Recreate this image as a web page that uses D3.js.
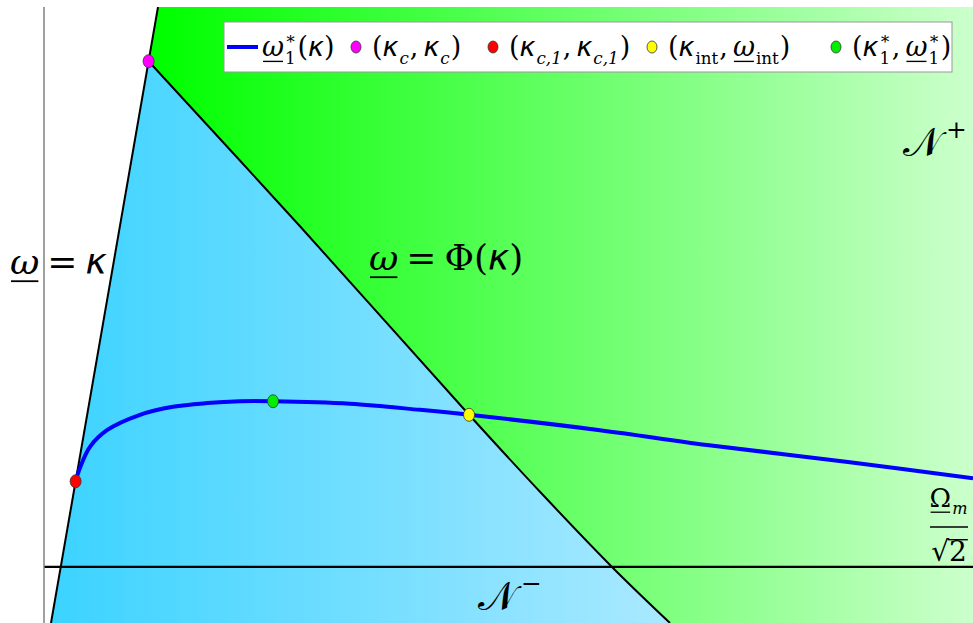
<!DOCTYPE html>
<html>
<head>
<meta charset="utf-8">
<script src="https://cdn.jsdelivr.net/npm/d3@7"></script>
<style>
  body { margin: 0; background: #fff; }
  svg { display: block; }
  svg text { font-family: "DejaVu Serif", serif; }
  svg text.kap { font-family: "DejaVu Sans", sans-serif; }
</style>
</head>
<body>
<svg id="chart" width="973" height="623"></svg>
<script>
// ----------------------------
// DATA (arbitrary units: kappa on x, omega on y)
// ----------------------------
const kappaDomain = [-0.0654, 8.617];
const omegaDomain = [0, 1];

// omega = kappa reference line
const diagKappa = [0, 1];

// omega = Phi(kappa) boundary
const phiKappa = [0.912, 2.327, 3.907, 4.570, 5.243, 5.785];
const phiOmega = [0.912, 0.644, 0.338, 0.213, 0.091, 0];

// omega_1^*(kappa) curve
const starKappa = [0.230, 0.271, 0.364, 0.523, 0.832, 1.140, 1.458, 1.766, 2.075, 2.794, 3.449, 3.907, 5.131, 6.131, 7.467, 8.617];
const starOmega = [0.230, 0.252, 0.286, 0.313, 0.338, 0.351, 0.357, 0.360, 0.360, 0.356, 0.346, 0.338, 0.313, 0.289, 0.261, 0.235];

// Omega_m / sqrt(2) level
const omegaLevel = 0.091;

// special points: (kc,kc), (kc1,kc1), (kint,wint), (k1*,w1*)
const pointKappa = [0.912, 0.230, 3.907, 2.075];
const pointOmega = [0.912, 0.230, 0.338, 0.360];
const pointColors = ["#ff00ff", "#ff0000", "#ffff00", "#00ee00"];

// ----------------------------
// SETUP
// ----------------------------
const svg = d3.select("#chart");
const W = 973, H = 623;
const margin = { top: 7, right: 0, bottom: 0, left: 44 };

const x = d3.scaleLinear().domain(kappaDomain).range([margin.left, W - margin.right]);
const y = d3.scaleLinear().domain(omegaDomain).range([H - margin.bottom, margin.top]);

const phiPts = phiKappa.map((k, i) => [k, phiOmega[i]]);
const starPts = starKappa.map((k, i) => [k, starOmega[i]]);

const curve = d3.line().x(d => x(d[0])).y(d => y(d[1])).curve(d3.curveCatmullRom.alpha(0.5));
const straight = d3.line().x(d => x(d[0])).y(d => y(d[1]));

const defs = svg.append("defs");
defs.append("clipPath").attr("id", "plot")
  .append("rect")
  .attr("x", margin.left).attr("y", margin.top)
  .attr("width", W - margin.left - margin.right)
  .attr("height", H - margin.top - margin.bottom);

function grad(id, x1, x2, c1, c2) {
  const gr = defs.append("linearGradient").attr("id", id)
    .attr("gradientUnits", "userSpaceOnUse")
    .attr("x1", x1).attr("x2", x2).attr("y1", 0).attr("y2", 0);
  gr.append("stop").attr("offset", 0).attr("stop-color", c1);
  gr.append("stop").attr("offset", 1).attr("stop-color", c2);
}
grad("gGreen", x(omegaDomain[1]), x(kappaDomain[1]), "#00ff00", "#ccffcc");
grad("gBlue", x(0), x(phiKappa[phiKappa.length - 1]), "#3bd3ff", "#aae9ff");

const g = svg.append("g").attr("clip-path", "url(#plot)");

// ----------------------------
// REGIONS
// ----------------------------
const phiPath = curve(phiPts);
const omegaTop = omegaDomain[1];
const kEnd = phiKappa[phiKappa.length - 1];
const greenD = `M${x(omegaTop)},${y(omegaTop)}L${x(kappaDomain[1])},${y(omegaTop)}L${x(kappaDomain[1])},${y(0)}`
  + `L${x(kEnd)},${y(0)}`
  + curve(phiPts.slice().reverse()).replace(/^M/, "L") + "Z";
g.append("path").attr("d", greenD).attr("fill", "url(#gGreen)");

const blueD = phiPath + `L${x(0)},${y(0)}Z`;
g.append("path").attr("d", blueD).attr("fill", "url(#gBlue)");

// ----------------------------
// LINES
// ----------------------------
g.append("line")
  .attr("x1", x(kappaDomain[0])).attr("x2", x(kappaDomain[1]))
  .attr("y1", y(omegaLevel)).attr("y2", y(omegaLevel))
  .attr("stroke", "#000").attr("stroke-width", 2.2);

g.append("path").attr("d", straight(diagKappa.map(k => [k, k])))
  .attr("fill", "none").attr("stroke", "#000").attr("stroke-width", 2);

g.append("path").attr("d", phiPath)
  .attr("fill", "none").attr("stroke", "#000").attr("stroke-width", 2);

g.append("path").attr("d", curve(starPts))
  .attr("fill", "none").attr("stroke", "#0000ff").attr("stroke-width", 4);

g.selectAll("ellipse.pt")
  .data(pointKappa)
  .join("ellipse")
  .attr("class", "pt")
  .attr("cx", d => x(d))
  .attr("cy", (d, i) => y(pointOmega[i]))
  .attr("rx", 5.5).attr("ry", 6.5)
  .attr("fill", (d, i) => pointColors[i])
  .attr("stroke", "#333").attr("stroke-width", 0.8);

// left axis line
svg.append("line")
  .attr("x1", margin.left).attr("x2", margin.left)
  .attr("y1", margin.top).attr("y2", H)
  .attr("stroke", "#808080").attr("stroke-width", 1.5);

// ----------------------------
// MATH TEXT HELPER
// ----------------------------
function mathText(parent, x0, y0, size, toks, anchor) {
  const tg = parent.append("g");
  let cx = 0;
  function put(t, px, py, s, italic, under, over, cls) {
    const el = tg.append("text")
      .attr("class", cls || null)
      .attr("x", px).attr("y", py)
      .attr("font-size", s)
      .attr("font-style", italic ? "italic" : "normal")
      .text(t);
    const w = el.node().getComputedTextLength();
    if (under) tg.append("line").attr("x1", px + 1).attr("x2", px + w - 1)
      .attr("y1", py + s * 0.2).attr("y2", py + s * 0.2)
      .attr("stroke", "#000").attr("stroke-width", Math.max(1, s * 0.05));
    if (over) tg.append("line").attr("x1", px - 1).attr("x2", px + w + 1)
      .attr("y1", py - s * 0.76).attr("y2", py - s * 0.76)
      .attr("stroke", "#000").attr("stroke-width", Math.max(1, s * 0.05));
    return w;
  }
  toks.forEach(tk => {
    if (tk.sub !== undefined || tk.sup !== undefined) {
      const s = size * 0.62;
      let w = 0;
      if (tk.sup !== undefined) w = Math.max(w, put(tk.sup, cx + 1 + (tk.dx || 0), -size * 0.46, s, false));
      if (tk.sub !== undefined) w = Math.max(w, put(tk.sub, cx + 1, size * 0.28, s, tk.si, tk.su));
      cx += w + 2 + (tk.dx || 0);
    } else {
      cx += tk.l || 0;
      const isK = tk.t === "κ";
      cx += put(tk.t, cx, 0, size * (tk.s || 1), tk.i, tk.u, tk.o, isK ? "kap" : null);
      cx += tk.r || 0;
    }
  });
  const dx = anchor === "middle" ? -cx / 2 : anchor === "end" ? -cx : 0;
  tg.attr("transform", `translate(${x0 + dx},${y0})`);
  return cx;
}

// ----------------------------
// ANNOTATIONS
// ----------------------------
const ann = svg.append("g");
mathText(ann, 10, 274, 36, [
  { t: "ω", i: true, u: true }, { t: "=", l: 8, r: 8 }, { t: "κ", i: true }
]);
mathText(ann, 369, 270, 36, [
  { t: "ω", i: true, u: true }, { t: "=", l: 8, r: 8 }, { t: "Φ" }, { t: "(" }, { t: "κ", i: true }, { t: ")" }
]);
mathText(ann, 903, 156, 40, [{ t: "𝒩" }, { sup: "+", dx: 4 }]);
mathText(ann, 478, 610, 40, [{ t: "𝒩" }, { sup: "−", dx: 4 }]);

// Omega_m / sqrt(2)
const fx = 949;
mathText(ann, fx, 507, 26, [{ t: "Ω", u: true }, { sub: "m", si: true }], "middle");
ann.append("line").attr("x1", fx - 19).attr("x2", fx + 19)
  .attr("y1", 527).attr("y2", 527).attr("stroke", "#000").attr("stroke-width", 1.5);
mathText(ann, fx, 561, 28, [{ t: "√" }, { t: "2", o: true }], "middle");

// ----------------------------
// LEGEND
// ----------------------------
const leg = svg.append("g");
leg.append("rect")
  .attr("x", 224).attr("y", 22).attr("width", 728).attr("height", 50)
  .attr("fill", "#fff").attr("stroke", "#999").attr("stroke-width", 1);

const legY = 56, legSize = 27;
// symbol centres along the legend row
const legSymbolX = [243, 356, 493, 652, 836];
const legendItems = [
  { color: "#0000ff", line: true, toks: [{ t: "ω", i: true, u: true }, { sub: "1", sup: "∗" }, { t: "(" }, { t: "κ", i: true }, { t: ")" }] },
  { color: pointColors[0], toks: [{ t: "(" }, { t: "κ", i: true }, { sub: "c", si: true }, { t: ",", r: 5 }, { t: "κ", i: true }, { sub: "c", si: true }, { t: ")" }] },
  { color: pointColors[1], toks: [{ t: "(" }, { t: "κ", i: true }, { sub: "c,1", si: true }, { t: ",", r: 5 }, { t: "κ", i: true }, { sub: "c,1", si: true }, { t: ")" }] },
  { color: pointColors[2], toks: [{ t: "(" }, { t: "κ", i: true }, { sub: "int" }, { t: ",", r: 5 }, { t: "ω", i: true, u: true }, { sub: "int" }, { t: ")" }] },
  { color: pointColors[3], toks: [{ t: "(" }, { t: "κ", i: true }, { sub: "1", sup: "∗" }, { t: ",", r: 5 }, { t: "ω", i: true, u: true }, { sub: "1", sup: "∗" }, { t: ")" }] }
];

legendItems.forEach((it, i) => {
  const cx = legSymbolX[i];
  if (it.line) {
    leg.append("line").attr("x1", cx - 16).attr("x2", cx + 15)
      .attr("y1", 47).attr("y2", 47)
      .attr("stroke", it.color).attr("stroke-width", 4);
    mathText(leg, cx + 19, legY, legSize, it.toks);
  } else {
    leg.append("ellipse").attr("cx", cx).attr("cy", 47)
      .attr("rx", 5).attr("ry", 6)
      .attr("fill", it.color).attr("stroke", "#333").attr("stroke-width", 0.8);
    mathText(leg, cx + 16, legY, legSize, it.toks);
  }
});
</script>
</body>
</html>
